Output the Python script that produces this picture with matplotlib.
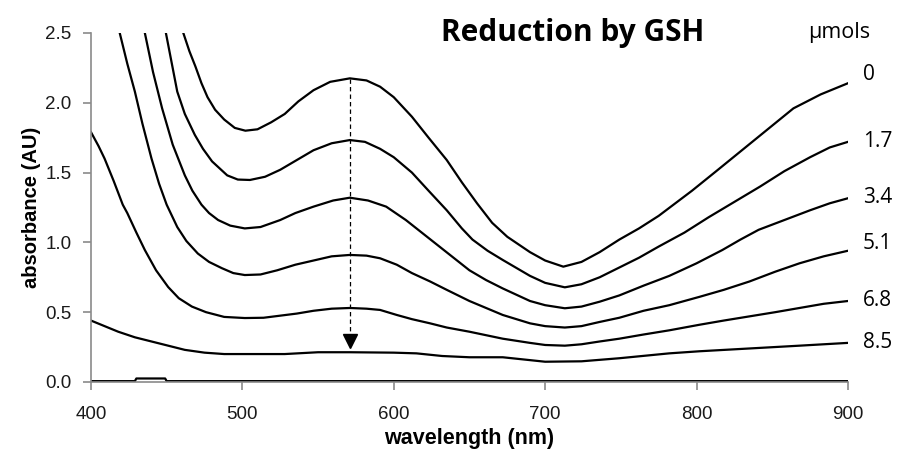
import matplotlib
matplotlib.use("Agg")
import matplotlib.pyplot as plt

# spectra (wavelength nm, absorbance AU)
wl_0 = [461, 465, 469, 473, 477, 482, 488, 495, 502, 510, 519, 528, 537, 547, 558, 571, 582, 591, 600, 612,
        623, 635, 645, 655, 665, 675, 690, 700, 712, 724, 736, 749, 762, 775, 786, 797, 813, 830, 847, 864, 882, 900]
abs_0 = [2.50, 2.37, 2.26, 2.14, 2.04, 1.95, 1.88, 1.82, 1.80, 1.81, 1.86, 1.92, 2.01, 2.09, 2.15, 2.175, 2.16, 2.115, 2.04, 1.90,
         1.75, 1.59, 1.43, 1.28, 1.14, 1.04, 0.93, 0.87, 0.826, 0.86, 0.93, 1.02, 1.10, 1.19, 1.28, 1.37, 1.51, 1.66, 1.81, 1.96, 2.06, 2.14]

wl_17 = [449.5, 457, 462, 468.6, 474, 480, 490, 497, 505, 515, 525, 536, 547, 559, 571, 581, 591, 600, 612, 623,
         635, 645, 652, 662, 672, 690, 700, 713, 724, 736, 749, 762, 775, 792, 808, 825, 842, 858, 875, 888, 900]
abs_17 = [2.50, 2.08, 1.92, 1.77, 1.67, 1.58, 1.48, 1.45, 1.447, 1.47, 1.52, 1.59, 1.66, 1.71, 1.733, 1.72, 1.67, 1.61, 1.50, 1.37,
          1.23, 1.10, 1.02, 0.94, 0.874, 0.76, 0.71, 0.678, 0.70, 0.75, 0.82, 0.89, 0.97, 1.07, 1.18, 1.29, 1.40, 1.51, 1.61, 1.68, 1.72]

wl_34 = [435.6, 441, 447, 454, 462, 467, 473, 478, 484, 492, 501.6, 512, 525, 535, 547, 560, 571, 583, 595, 608,
         622, 636, 650, 661, 672, 690, 700, 713, 724, 736, 749, 765, 782, 800, 817, 829, 841, 858, 875, 888, 900]
abs_34 = [2.50, 2.22, 1.96, 1.70, 1.48, 1.37, 1.27, 1.21, 1.16, 1.12, 1.10, 1.11, 1.16, 1.21, 1.256, 1.30, 1.32, 1.30, 1.256, 1.16,
          1.04, 0.92, 0.80, 0.73, 0.67, 0.58, 0.55, 0.528, 0.54, 0.575, 0.62, 0.69, 0.76, 0.85, 0.945, 1.02, 1.09, 1.16, 1.23, 1.28, 1.316]

wl_51 = [419, 424, 429, 434, 440, 445, 450, 457, 463, 470.6, 478, 486.5, 494, 501.6, 512, 523, 535, 547, 559, 571, 582, 591,
         602, 612, 624, 635, 650, 661, 672, 690, 700, 713, 724, 736, 749, 765, 782, 802, 818, 835, 852, 868, 884, 900]
abs_51 = [2.50, 2.28, 2.08, 1.85, 1.60, 1.42, 1.27, 1.11, 1.01, 0.92, 0.86, 0.815, 0.78, 0.766, 0.77, 0.80, 0.84, 0.87, 0.90, 0.91, 0.905, 0.886,
          0.84, 0.78, 0.72, 0.66, 0.58, 0.53, 0.48, 0.42, 0.40, 0.39, 0.40, 0.43, 0.46, 0.51, 0.55, 0.61, 0.66, 0.72, 0.79, 0.85, 0.90, 0.94]

wl_68 = [400, 405, 409, 415, 421, 424, 430, 435.6, 443, 451, 458, 466.7, 476, 488, 501.6, 514, 525, 536, 547, 559, 571, 582, 591,
         602, 612, 624, 635, 650, 661, 672, 690, 700, 713, 724, 736, 749, 765, 782, 802, 818, 835, 852, 868, 884, 900]
abs_68 = [1.79, 1.69, 1.60, 1.44, 1.27, 1.21, 1.07, 0.945, 0.80, 0.68, 0.60, 0.54, 0.50, 0.466, 0.458, 0.46, 0.475, 0.49, 0.51, 0.525, 0.53, 0.525, 0.516,
          0.48, 0.45, 0.42, 0.39, 0.36, 0.335, 0.31, 0.28, 0.265, 0.26, 0.27, 0.29, 0.31, 0.34, 0.37, 0.41, 0.44, 0.47, 0.50, 0.53, 0.56, 0.58]

wl_85 = [400, 409, 418, 429, 440, 451, 462, 475, 488, 501.6, 528, 550, 571, 600, 615, 632, 650, 672, 700, 724, 749, 782, 802, 835, 868, 900]
abs_85 = [0.44, 0.40, 0.36, 0.32, 0.29, 0.26, 0.23, 0.21, 0.20, 0.20, 0.20, 0.213, 0.213, 0.21, 0.205, 0.186, 0.177, 0.177, 0.145, 0.148, 0.17, 0.205, 0.22, 0.24, 0.26, 0.28]

wl_base = [400, 429, 430, 449, 450, 900]
abs_base = [0.006, 0.006, 0.025, 0.025, 0.006, 0.006]

series = [(wl_0, abs_0), (wl_17, abs_17), (wl_34, abs_34), (wl_51, abs_51), (wl_68, abs_68), (wl_85, abs_85), (wl_base, abs_base)]

amounts = ["0", "1.7", "3.4", "5.1", "6.8", "8.5"]
label_y = [2.20, 1.726, 1.318, 0.99, 0.587, 0.28]

arrow_wl = 571
arrow_top = 2.17
arrow_tip = 0.24

fig = plt.figure(figsize=(9.06, 4.58), dpi=100)
ax = fig.add_axes([0.1004, 0.166, 0.8355, 0.762])

for wl, a in series:
    ax.plot(wl, a, color="black", lw=1.6, solid_joinstyle="round")

# dashed arrow through the 571 nm band
ax.plot([arrow_wl, arrow_wl], [arrow_top, arrow_tip + 0.09], color="black", lw=0.9, dashes=(3.5, 2.5))
ax.plot(arrow_wl, arrow_tip + 0.055, marker="v", color="black", markersize=9.5, clip_on=False)

ax.set_xlim(400, 900)
ax.set_ylim(0, 2.5)
ax.set_xticks([400, 500, 600, 700, 800, 900])
ax.set_yticks([0.0, 0.5, 1.0, 1.5, 2.0, 2.5])
ax.set_yticklabels(["0.0", "0.5", "1.0", "1.5", "2.0", "2.5"])

for s in ["top", "right"]:
    ax.spines[s].set_visible(False)
for s in ["left", "bottom"]:
    ax.spines[s].set_color("#8a8a8a")
    ax.spines[s].set_linewidth(1.2)
ax.tick_params(axis="both", direction="out", color="#8a8a8a", width=1.2,
               labelsize=13.5, labelcolor="#1a1a1a")
ax.tick_params(axis="x", length=6, pad=11)
ax.tick_params(axis="y", length=6, pad=8)
for t in ax.get_xticklabels() + ax.get_yticklabels():
    t.set_family("Liberation Sans")

ax.set_xlabel("wavelength (nm)", family="Liberation Sans", fontweight="bold", fontsize=15.5, labelpad=4)
ax.set_ylabel("absorbance (AU)", family="Liberation Sans", fontweight="bold", fontsize=14.5, labelpad=3)

ax.text(718, 2.5, "Reduction by GSH", family="Open Sans", fontweight="bold", fontsize=21.5,
        ha="center", va="center", clip_on=False)
ax.text(874, 2.5, "\u03bcmols", family="Open Sans", fontsize=15.5, ha="left", va="center", clip_on=False)
for lab, y in zip(amounts, label_y):
    ax.text(910, y, lab, family="Open Sans", fontsize=15, ha="left", va="center", clip_on=False)

fig.savefig("out.png", dpi=100)
